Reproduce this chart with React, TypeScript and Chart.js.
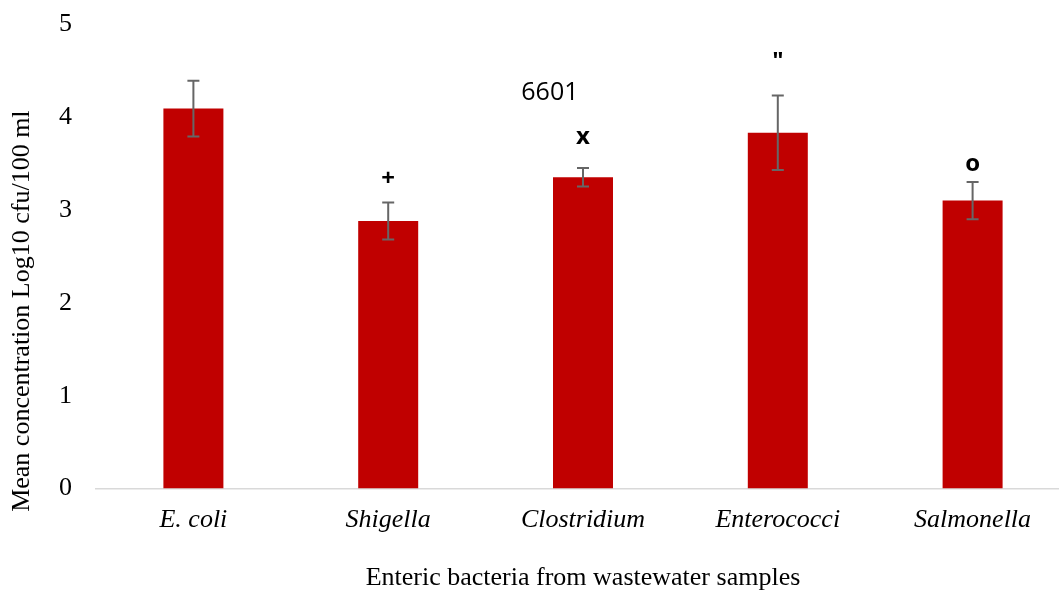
import React, { useEffect, useRef } from "react";
import { Chart, registerables } from "chart.js";

Chart.register(...registerables);

const categories = ["E. coli", "Shigella", "Clostridium", "Enterococci", "Salmonella"];
const means = [4.09, 2.88, 3.35, 3.83, 3.1];
const errors = [0.3, 0.2, 0.1, 0.4, 0.2];
const markTexts = ["", "+", "x", "\"", "o"];
const markValues = [0, 3.33, 3.78, 4.59, 3.49];
const noteText = "6601";
const noteX = 1.83;
const noteY = 4.26;
const yTicks = [0, 1, 2, 3, 4, 5];
const yTitle = "Mean concentration Log10 cfu/100 ml";

const errorBarPlugin = {
  id: "errorBars",
  afterDatasetsDraw(chart: any) {
    const ctx = chart.ctx;
    const x = chart.scales.x;
    const y = chart.scales.y;
    ctx.save();
    ctx.strokeStyle = "#666666";
    ctx.lineWidth = 2;
    means.forEach((m, i) => {
      const cx = x.getPixelForValue(i);
      const top = y.getPixelForValue(m + errors[i]);
      const bot = y.getPixelForValue(m - errors[i]);
      ctx.beginPath();
      ctx.moveTo(cx, top);
      ctx.lineTo(cx, bot);
      ctx.moveTo(cx - 6, top);
      ctx.lineTo(cx + 6, top);
      ctx.moveTo(cx - 6, bot);
      ctx.lineTo(cx + 6, bot);
      ctx.stroke();
    });
    ctx.fillStyle = "#000";
    ctx.textAlign = "center";
    ctx.textBaseline = "middle";
    ctx.font = "bold 24px 'Open Sans', 'Liberation Sans', sans-serif";
    markTexts.forEach((t, i) => {
      if (!t) return;
      ctx.fillText(t, x.getPixelForValue(i), y.getPixelForValue(markValues[i]));
    });
    ctx.font = "25px 'Open Sans', 'Liberation Sans', sans-serif";
    ctx.fillText(noteText, x.getPixelForValue(noteX), y.getPixelForValue(noteY));
    // y-axis title, positioned like the reference (not centred on the plot)
    ctx.translate(22, y.getPixelForValue(1.91));
    ctx.rotate(-Math.PI / 2);
    ctx.font = "26px 'Liberation Serif', serif";
    ctx.fillText(yTitle, 0, 0);
    ctx.restore();
  },
};

export default function App() {
  const ref = useRef<HTMLCanvasElement | null>(null);
  useEffect(() => {
    document.body.style.margin = "0";
    document.body.style.overflow = "hidden";
    const chart = new Chart(ref.current as HTMLCanvasElement, {
      type: "bar",
      data: {
        labels: categories,
        datasets: [
          {
            data: means,
            backgroundColor: "#c00000",
            barPercentage: 1,
            categoryPercentage: 0.308,
          },
        ],
      },
      options: {
        animation: false,
        responsive: false,
        maintainAspectRatio: false,
        layout: { padding: { left: 43, right: 0, top: 24, bottom: 0 } },
        plugins: { legend: { display: false }, tooltip: { enabled: false } },
        scales: {
          x: {
            grid: { display: false },
            border: { display: true, color: "#d9d9d9", width: 1.5 },
            ticks: {
              color: "#000",
              padding: 8,
              font: { family: "'Liberation Serif', serif", size: 26, style: "italic" },
            },
            title: {
              display: true,
              text: "Enteric bacteria from wastewater samples",
              color: "#000",
              padding: { top: 19, bottom: 0 },
              font: { family: "'Liberation Serif', serif", size: 26 },
            },
          },
          y: {
            min: 0,
            max: 5,
            afterBuildTicks(axis: any) {
              axis.ticks = yTicks.map((v) => ({ value: v }));
            },
            grid: { display: false },
            border: { display: false },
            ticks: {
              color: "#000",
              padding: 16,
              font: { family: "'Liberation Serif', serif", size: 26, lineHeight: 0.4 },
            },
          },
        },
      },
      plugins: [errorBarPlugin],
    });
    return () => chart.destroy();
  }, []);
  return (
    <div style={{ position: "fixed", left: 0, top: 0, width: 1059, height: 591, overflow: "hidden", background: "#fff" }}>
      <canvas ref={ref} width={1070} height={594} style={{ width: 1070, height: 594, display: "block" }} />
    </div>
  );
}
